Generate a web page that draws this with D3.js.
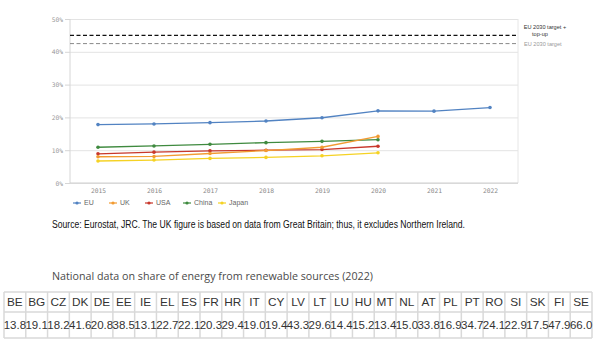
<!DOCTYPE html>
<html>
<head>
<meta charset="utf-8">
<script src="https://cdn.jsdelivr.net/npm/d3@7"></script>
<style>
  body { margin: 0; background: #fff; }
  svg { display: block; }
</style>
</head>
<body>
<svg id="chart" width="600" height="352"></svg>
<script>
// data
var years = ["2015", "2016", "2017", "2018", "2019", "2020", "2021", "2022"];
var euValues = [17.8, 18.0, 18.4, 18.9, 19.9, 22.0, 21.9, 23.0];
var ukValues = [8.0, 8.1, 9.0, 9.9, 10.9, 14.2];
var usaValues = [8.9, 9.4, 9.8, 10.0, 10.2, 11.2];
var chinaValues = [10.9, 11.3, 11.8, 12.3, 12.7, 13.2];
var japanValues = [6.7, 7.0, 7.5, 7.8, 8.3, 9.2];
var yTicks = [0, 10, 20, 30, 40, 50];
var targetTopUp = 45;
var target = 42.5;

var countries = ["BE","BG","CZ","DK","DE","EE","IE","EL","ES","FR","HR","IT","CY","LV","LT","LU","HU","MT","NL","AT","PL","PT","RO","SI","SK","FI","SE"];
var shares = ["13.8","19.1","18.2","41.6","20.8","38.5","13.1","22.7","22.1","20.3","29.4","19.0","19.4","43.3","29.6","14.4","15.2","13.4","15.0","33.8","16.9","34.7","24.1","22.9","17.5","47.9","66.0"];

var series = [
    {name: "EU", color: "#5283c2", values: euValues},
    {name: "UK", color: "#f29b32", values: ukValues},
    {name: "USA", color: "#c8382c", values: usaValues},
    {name: "China", color: "#3f8a3f", values: chinaValues},
    {name: "Japan", color: "#f5d224", values: japanValues}
];

var svg = d3.select("#chart");
var plotLeft = 70, plotRight = 518, plotTop = 19, plotBottom = 183;

var x = d3.scalePoint().domain(years).range([plotLeft, plotRight]).padding(0.5);
var y = d3.scaleLinear().domain([0, 50]).range([plotBottom, plotTop]);

var monoFont = "'DejaVu Sans Mono', monospace";
var sansFont = "'Liberation Sans', sans-serif";
var narrowFont = "'Liberation Sans Narrow', 'Liberation Sans', sans-serif";

// grid
svg.append("g")
    .attr("transform", "translate(" + plotLeft + ",0)")
    .call(d3.axisLeft(y).tickValues(yTicks).tickSize(-(plotRight - plotLeft)).tickFormat(""))
    .call(g => g.select(".domain").remove())
    .selectAll("line").attr("stroke", "#e3e3e3").attr("stroke-width", 1);

// frame right
svg.append("line")
    .attr("x1", plotRight).attr("x2", plotRight).attr("y1", plotTop).attr("y2", plotBottom)
    .attr("stroke", "#e6e6e6");

// y axis
var yAxis = svg.append("g")
    .attr("transform", "translate(" + plotLeft + ",0)")
    .call(d3.axisLeft(y).tickValues(yTicks).tickSize(5).tickPadding(2).tickFormat(d => d + "%"));
yAxis.select(".domain").attr("stroke", "#d6d6d6").attr("d", "M0," + plotTop + "V" + plotBottom);
yAxis.selectAll("line").attr("stroke", "#d6d6d6");
yAxis.selectAll("text").attr("fill", "#999").attr("font-family", monoFont).attr("font-size", 6.3);

// x axis
var xAxis = svg.append("g")
    .attr("transform", "translate(0," + plotBottom + ")")
    .call(d3.axisBottom(x).tickSize(0).tickPadding(6));
xAxis.select(".domain").attr("stroke", "#cfcfcf").attr("d", "M" + plotLeft + ",0H" + plotRight);
xAxis.selectAll("text").attr("fill", "#888").attr("font-family", monoFont).attr("font-size", 6.3);

// target lines
svg.append("line")
    .attr("x1", plotLeft).attr("x2", plotRight).attr("y1", y(targetTopUp)).attr("y2", y(targetTopUp))
    .attr("stroke", "#111").attr("stroke-width", 1.2).attr("stroke-dasharray", "4,2.5");
svg.append("line")
    .attr("x1", plotLeft).attr("x2", plotRight).attr("y1", y(target)).attr("y2", y(target))
    .attr("stroke", "#888").attr("stroke-width", 1).attr("stroke-dasharray", "4,2.5");

var lbl = svg.append("text")
    .attr("font-family", sansFont).attr("font-size", 5.6)
    .attr("fill", "#333").attr("text-anchor", "middle");
lbl.append("tspan").attr("x", 545).attr("y", y(targetTopUp) - 6).text("EU 2030 target +");
lbl.append("tspan").attr("x", 540).attr("y", y(targetTopUp) + 0.5).text("top-up");
svg.append("text")
    .attr("x", 524).attr("y", y(target) + 2)
    .attr("font-family", sansFont).attr("font-size", 5.6)
    .attr("fill", "#999").text("EU 2030 target");

// lines
var line = d3.line().x((d, i) => x(years[i])).y(d => y(d));
series.slice().reverse().forEach(function(s) {
    var g = svg.append("g");
    g.append("path")
        .attr("d", line(s.values))
        .attr("fill", "none").attr("stroke", s.color).attr("stroke-width", 1.3);
    g.selectAll("circle").data(s.values).enter().append("circle")
        .attr("cx", (d, i) => x(years[i])).attr("cy", d => y(d))
        .attr("r", 1.8).attr("fill", s.color);
});

// legend
var legendX = [77, 113, 149, 187, 222];
series.forEach(function(s, i) {
    var g = svg.append("g").attr("transform", "translate(" + legendX[i] + ",203)");
    g.append("line").attr("x1", -4).attr("x2", 4).attr("stroke", s.color).attr("stroke-width", 1.2);
    g.append("circle").attr("r", 1.6).attr("fill", s.color);
    g.append("text").attr("x", 7).attr("y", 2.4)
        .attr("font-family", sansFont).attr("font-size", 7)
        .attr("fill", "#666").text(s.name);
});

// source note
svg.append("text")
    .attr("x", 52).attr("y", 228)
    .attr("font-family", narrowFont)
    .attr("font-size", 10).attr("fill", "#111")
    .attr("textLength", 413).attr("lengthAdjust", "spacingAndGlyphs")
    .text("Source: Eurostat, JRC. The UK figure is based on data from Great Britain; thus, it excludes Northern Ireland.");

// table title
svg.append("text")
    .attr("x", 52).attr("y", 279.5)
    .attr("font-family", "'Open Sans', sans-serif")
    .attr("font-size", 11.5).attr("fill", "#4a4a4a")
    .attr("textLength", 321).attr("lengthAdjust", "spacingAndGlyphs")
    .text("National data on share of energy from renewable sources (2022)");

// table
var tLeft = 4, tRight = 592, tTop = 292, tMid = 312, tBottom = 338;
var col = d3.scaleBand().domain(countries).range([tLeft, tRight]);
var table = svg.append("g");
table.selectAll("line.v").data(d3.range(countries.length + 1)).enter().append("line")
    .attr("x1", i => tLeft + i * col.bandwidth()).attr("x2", i => tLeft + i * col.bandwidth())
    .attr("y1", tTop).attr("y2", tBottom)
    .attr("stroke", "#d9d9d9").attr("stroke-width", 1.5);
[tTop, tMid, tBottom].forEach(function(yy) {
    table.append("line").attr("x1", tLeft).attr("x2", tRight).attr("y1", yy).attr("y2", yy)
        .attr("stroke", "#d9d9d9").attr("stroke-width", 1.5);
});
table.selectAll("text.h").data(countries).enter().append("text")
    .attr("x", d => col(d) + col.bandwidth() / 2).attr("y", 306)
    .attr("text-anchor", "middle")
    .attr("font-family", narrowFont)
    .attr("font-size", 11.8).attr("fill", "#333").text(d => d);
table.selectAll("text.v").data(shares).enter().append("text")
    .attr("x", (d, i) => col(countries[i]) + col.bandwidth() / 2).attr("y", 329)
    .attr("text-anchor", "middle")
    .attr("font-family", narrowFont)
    .attr("font-size", 11.5).attr("fill", "#333").text(d => d);
</script>
</body>
</html>
